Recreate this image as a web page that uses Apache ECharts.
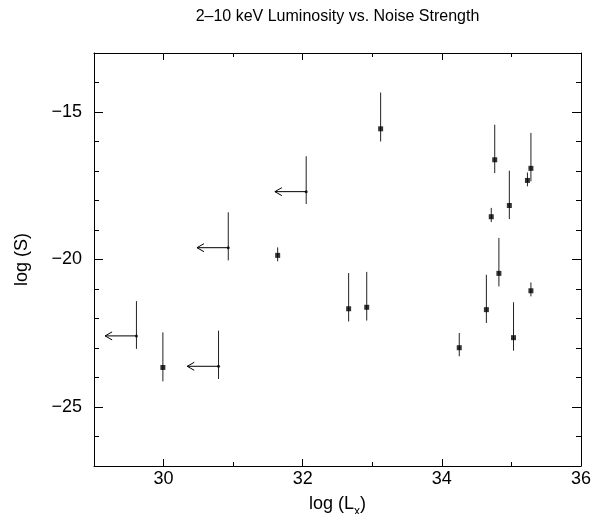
<!DOCTYPE html>
<html>
<head>
<meta charset="utf-8">
<script src="https://cdn.jsdelivr.net/npm/echarts@6/dist/echarts.min.js"></script>
<style>
  html, body { margin: 0; padding: 0; background: #fff; }
  #chart { width: 591px; height: 514px; }
</style>
</head>
<body>
<div id="chart"></div>
<script>
// detections: log(Lx), log(S), error bar top / bottom
var detX  = [29.99, 31.64, 33.12, 32.66, 32.92, 34.25, 34.64, 34.82, 35.03, 35.28, 34.76, 34.71, 34.97, 35.23, 35.28];
var detY  = [-23.66, -19.86, -15.57, -21.67, -21.62, -22.99, -21.70, -20.47, -22.65, -21.06, -16.62, -18.55, -18.17, -17.32, -16.91];
var detHi = [-22.47, -19.59, -14.34, -20.46, -20.42, -22.49, -20.52, -19.27, -21.45, -20.78, -15.43, -18.25, -16.99, -17.05, -15.71];
var detLo = [-24.13, -20.06, -16.00, -22.10, -22.07, -23.28, -22.15, -20.91, -23.09, -21.25, -17.07, -18.73, -18.63, -17.52, -17.35];

// upper limits in Lx (left arrows)
var limX  = [32.05, 30.93, 29.61, 30.79];
var limY  = [-17.70, -19.60, -22.59, -23.62];
var limHi = [-16.50, -18.40, -21.41, -22.41];
var limLo = [-18.12, -20.03, -23.03, -24.05];
var arrowLen = 0.45;

var majorX = [30, 32, 34, 36];
var minorX = [29, 31, 33, 35];
var majorY = [-25, -20, -15];
var minorY = [-27, -26, -24, -23, -22, -21, -19, -18, -17, -16, -14, -13];

var font = "'Liberation Sans', Arial, sans-serif";

function pairs(xs, ys) {
  return xs.map(function (x, i) { return [x, ys[i]]; });
}

function errRows(xs, hi, lo) {
  return xs.map(function (x, i) { return [x, hi[i], lo[i]]; });
}

function renderErr(params, api) {
  var a = api.coord([api.value(0), api.value(1)]);
  var b = api.coord([api.value(0), api.value(2)]);
  return {
    type: 'line',
    shape: { x1: a[0], y1: a[1], x2: b[0], y2: b[1] },
    style: { stroke: '#222', lineWidth: 1 }
  };
}

function renderArrow(params, api) {
  var p = api.coord([api.value(0), api.value(1)]);
  var t = api.coord([api.value(0) - arrowLen, api.value(1)]);
  return {
    type: 'group',
    children: [
      { type: 'line', shape: { x1: p[0], y1: p[1], x2: t[0], y2: t[1] },
        style: { stroke: '#000', lineWidth: 1 } },
      { type: 'polyline', shape: { points: [[t[0] + 7, t[1] - 4], [t[0], t[1]], [t[0] + 7, t[1] + 4]] },
        style: { stroke: '#000', lineWidth: 1, fill: null } }
    ]
  };
}

function minus(v) { return String(v).replace('-', '\u2212'); }

function xAx(pos, ticks, len, showLine, labels) {
  return {
    type: 'value', position: pos, min: 29, max: 36, interval: 1,
    axisLine: { show: showLine, lineStyle: { color: '#000', width: 1 } },
    axisTick: { show: true, inside: true, length: len, customValues: ticks, lineStyle: { color: '#000' } },
    axisLabel: labels ? { show: true, customValues: ticks, color: '#000', fontSize: 18, fontFamily: font, margin: 4 } : { show: false },
    splitLine: { show: false }
  };
}

function yAx(pos, ticks, len, showLine, labels) {
  return {
    type: 'value', position: pos, min: -27, max: -13, interval: 1,
    axisLine: { show: showLine, lineStyle: { color: '#000', width: 1 } },
    axisTick: { show: true, inside: true, length: len, customValues: ticks, lineStyle: { color: '#000' } },
    axisLabel: labels ? { show: true, customValues: ticks, color: '#000', fontSize: 18, fontFamily: font, margin: 12, formatter: minus } : { show: false },
    splitLine: { show: false }
  };
}

var xMain = xAx('bottom', majorX, 7, true, true);
xMain.name = '{a|log (L}{s|x}{a|)}';
xMain.nameLocation = 'middle';
xMain.nameGap = 24;
xMain.nameTextStyle = {
  color: '#000', fontFamily: font,
  rich: {
    a: { fontSize: 18, fontFamily: font, color: '#000', lineHeight: 20 },
    s: { fontSize: 12, fontFamily: font, color: '#000', lineHeight: 28, verticalAlign: 'bottom' }
  }
};

var yMain = yAx('left', majorY, 9, true, true);
yMain.name = 'log (S)';
yMain.nameLocation = 'middle';
yMain.nameGap = 63;
yMain.nameTextStyle = { color: '#000', fontSize: 18, fontFamily: font };

var chart = echarts.init(document.getElementById('chart'));
chart.setOption({
  animation: false,
  backgroundColor: '#fff',
  graphic: [{
    type: 'text', x: 337.5, y: 9,
    style: { text: '2\u201310 keV Luminosity vs. Noise Strength', fill: '#000', fontSize: 16, fontFamily: font, align: 'center', verticalAlign: 'top' }
  }],
  grid: { left: 94, right: 10, top: 53, bottom: 48, containLabel: false, outerBoundsMode: 'none' },
  xAxis: [
    xMain,
    xAx('bottom', minorX, 4, false, false),
    xAx('top', majorX, 7, true, false),
    xAx('top', minorX, 4, false, false)
  ],
  yAxis: [
    yMain,
    yAx('left', minorY, 5, false, false),
    yAx('right', majorY, 9, true, false),
    yAx('right', minorY, 5, false, false)
  ],
  series: [
    { type: 'custom', renderItem: renderErr, data: errRows(detX, detHi, detLo),
      encode: { x: 0, y: [1, 2] }, silent: true },
    { type: 'custom', renderItem: renderErr, data: errRows(limX, limHi, limLo),
      encode: { x: 0, y: [1, 2] }, silent: true },
    { type: 'custom', renderItem: renderArrow, data: pairs(limX, limY),
      encode: { x: 0, y: 1 }, silent: true },
    { type: 'scatter', symbol: 'rect', symbolSize: 5, data: pairs(detX, detY),
      itemStyle: { color: '#000' }, silent: true },
    { type: 'scatter', symbol: 'circle', symbolSize: 3, data: pairs(limX, limY),
      itemStyle: { color: '#000' }, silent: true }
  ]
});
</script>
</body>
</html>
